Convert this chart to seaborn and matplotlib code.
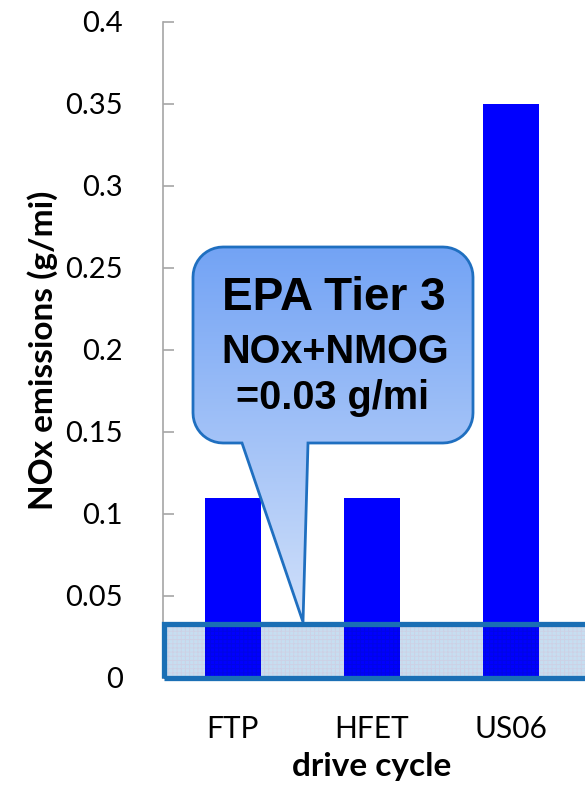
import numpy as np
import pandas as pd
import matplotlib
matplotlib.use("Agg")
import matplotlib.pyplot as plt
import seaborn as sns
from matplotlib.patches import Rectangle, PathPatch
from matplotlib.path import Path

# ---- data ----
cycles = ["FTP", "HFET", "US06"]
nox = [0.11, 0.11, 0.35]
tier3_box = 0.033
y_ticks = [0, 0.05, 0.1, 0.15, 0.2, 0.25, 0.3, 0.35, 0.4]
y_tick_labels = ["0", "0.05", "0.1", "0.15", "0.2", "0.25", "0.3", "0.35", "0.4"]
callout_lines = ["EPA Tier 3", "NOx+NMOG", "=0.03 g/mi"]

sns.set_style("white")
plt.rcParams["font.family"] = ["Lato", "DejaVu Sans"]
plt.rcParams["hatch.linewidth"] = 0.7

W, H = 585, 791
fig = plt.figure(figsize=(W / 100, H / 100), dpi=100)
ax = fig.add_axes([163 / W, 1 - 678 / H, 418 / W, 656 / H])

df = pd.DataFrame({"cycle": cycles, "nox": nox})
sns.barplot(data=df, x="cycle", y="nox", color="#0000FF", width=0.4,
            saturation=1, edgecolor="none", ax=ax, zorder=2)

ax.set_xlim(-0.5, 2.5)
ax.set_ylim(0, 0.4)
ax.set_yticks(y_ticks)
ax.set_yticklabels(y_tick_labels)

# limit box (hatched)
x_left = -0.49
fill = Rectangle((x_left, 0), 3.2, tier3_box, facecolor="#c6def1",
                 edgecolor="white", hatch="++++", lw=0, zorder=0.5, clip_on=False)
ax.add_patch(fill)
over = Rectangle((x_left, 0), 3.2, tier3_box, facecolor="none",
                 edgecolor=(0.0, 0.1, 0.5, 0.2), hatch="++++", lw=0, zorder=3, clip_on=False)
ax.add_patch(over)
border = Rectangle((x_left, 0), 3.2, tier3_box, facecolor="none",
                   edgecolor="#1a6fb5", lw=3.8, zorder=4, clip_on=False)
ax.add_patch(border)

# axes styling
for s in ["top", "right"]:
    ax.spines[s].set_visible(False)
for s in ["left", "bottom"]:
    ax.spines[s].set_color("#a6a6a6")
    ax.spines[s].set_linewidth(1.2)
ax.tick_params(axis="y", direction="in", length=8, width=1.2, color="#a6a6a6",
               pad=29, labelsize=21, labelcolor="black", left=True)
ax.tick_params(axis="x", which="major", length=0, pad=27, labelsize=21.5, labelcolor="black")
ax.set_xticks([0.5, 1.5], minor=True)
ax.tick_params(axis="x", which="minor", direction="in", length=7, width=1.2, color="#a6a6a6")
ax.set_xlabel("drive cycle", fontsize=24, fontweight="bold", labelpad=6, color="black")
ax.set_ylabel("NOx emissions (g/mi)", fontsize=24, fontweight="bold", labelpad=5, color="black")

# callout in pixel coordinates (overlay axes)
ov = fig.add_axes([0, 0, 1, 1], zorder=5)
ov.set_xlim(0, W)
ov.set_ylim(H, 0)
ov.axis("off")
ov.patch.set_alpha(0)

x0, x1, y0, y1, r = 193, 473, 247, 443, 30
def arc(cx, cy, a0, a1, n=12):
    t = np.radians(np.linspace(a0, a1, n))
    return list(zip(cx + r * np.cos(t), cy + r * np.sin(t)))
pts = []
pts += [(x0 + r, y0), (x1 - r, y0)]
pts += arc(x1 - r, y0 + r, -90, 0)
pts += [(x1, y1 - r)]
pts += arc(x1 - r, y1 - r, 0, 90)
pts += [(308, y1), (303, 622), (242, y1), (x0 + r, y1)]
pts += arc(x0 + r, y1 - r, 90, 180)
pts += [(x0, y0 + r)]
pts += arc(x0 + r, y0 + r, 180, 270)
pts.append(pts[0])
codes = [Path.MOVETO] + [Path.LINETO] * (len(pts) - 2) + [Path.CLOSEPOLY]
path = Path(pts, codes)
patch = PathPatch(path, facecolor="none", edgecolor="#1f6fc0", lw=2.0, zorder=3)
ov.add_patch(patch)

top_c = np.array([0.45, 0.64, 0.96])
bot_c = np.array([0.82, 0.88, 0.98])
ny = 200
tgrad = np.linspace(0, 1, ny)[:, None, None]
img = top_c * (1 - tgrad) + bot_c * tgrad
img = np.repeat(img, 2, axis=1)
im = ov.imshow(img, extent=(x0, x1, 622, y0), aspect="auto", zorder=2, interpolation="bilinear")
clip = PathPatch(path, facecolor="none", edgecolor="none", transform=ov.transData)
ov.add_patch(clip)
im.set_clip_path(clip)
ov.set_xlim(0, W)
ov.set_ylim(H, 0)

fam = ["Liberation Sans", "DejaVu Sans"]
ov.text(334, 298, callout_lines[0], fontsize=33, fontweight="bold", family=fam,
        ha="center", va="center", color="black", zorder=4)
ov.text(335, 352, callout_lines[1], fontsize=28.5, fontweight="bold", family=fam,
        ha="center", va="center", color="black", zorder=4)
ov.text(333, 398, callout_lines[2], fontsize=28.5, fontweight="bold", family=fam,
        ha="center", va="center", color="black", zorder=4)

fig.savefig("out.png", dpi=100)
